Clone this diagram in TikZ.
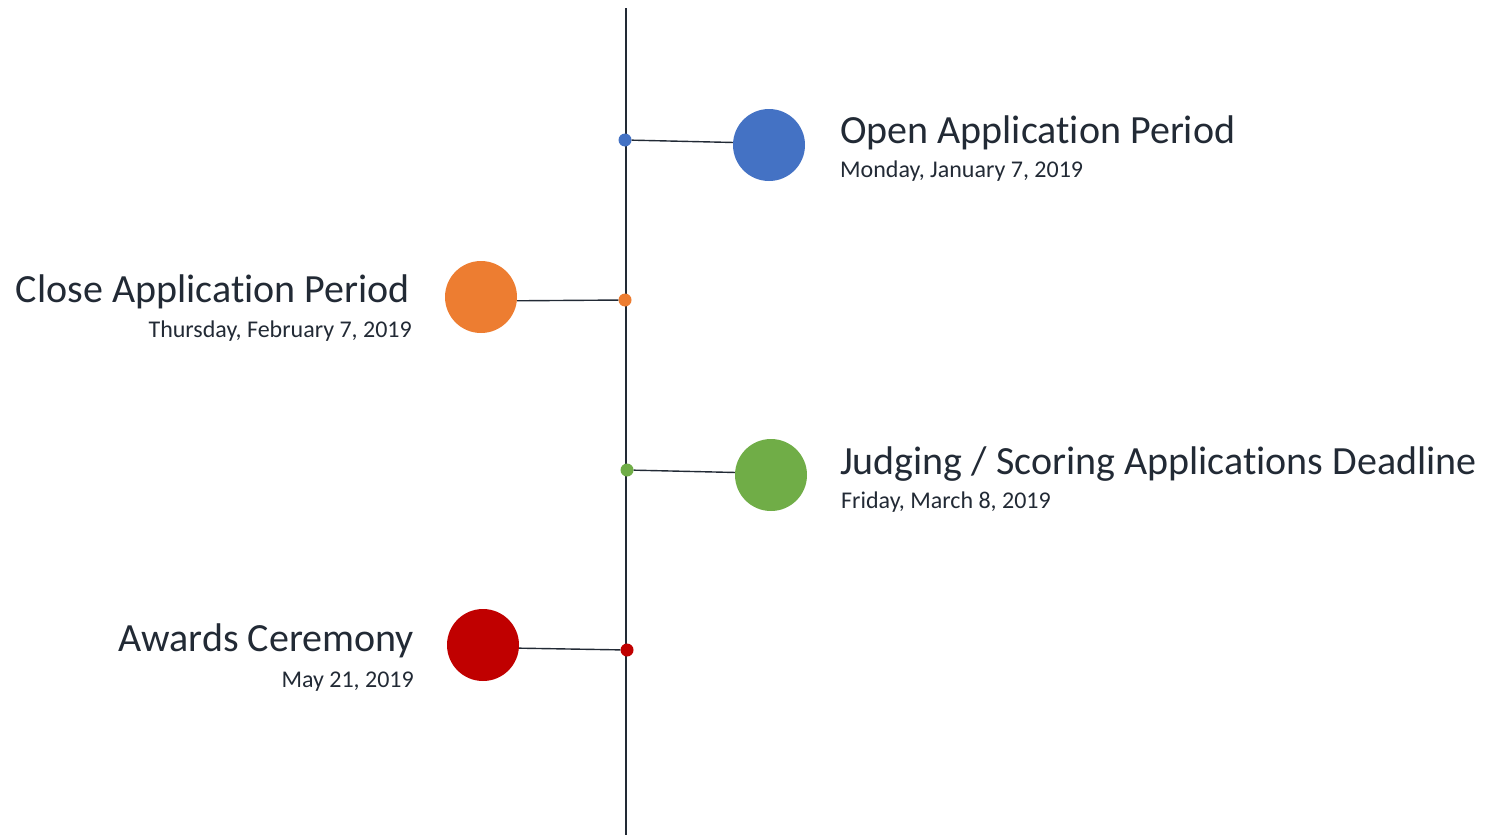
\documentclass[tikz,border=0pt]{standalone}
\usepackage{fontspec}
\setmainfont{Carlito}[Ligatures=NoCommon]
\usepackage{tikz}
\usetikzlibrary{positioning}

\definecolor{txtdark}{HTML}{222A35}
\definecolor{evblue}{HTML}{4472C4}
\definecolor{evorange}{HTML}{ED7D31}
\definecolor{evgreen}{HTML}{70AD47}
\definecolor{evred}{HTML}{C00000}

\begin{document}
\begin{tikzpicture}[x=1pt,y=-1pt,
evdot/.style={circle,inner sep=0pt,minimum size=13pt},
evdisc/.style={circle,inner sep=0pt,minimum size=72pt},
evtitle/.style={inner sep=0pt,text=txtdark,font=\fontsize{40}{44}\selectfont},
evdate/.style={inner sep=0pt,text=txtdark,font=\fontsize{24}{28}\selectfont},
link/.style={draw=txtdark,line width=1.4pt}]
\useasboundingbox (0,0) rectangle (1502,835);
% time axis
\coordinate (axtop) at (626,8);
\coordinate (axbot) at (626,835);
\draw[txtdark,line width=1.4pt] (axtop) -- (axbot);
% open application
\node[evdot,fill=evblue] (d1) at (625,140) {};
\node[evdisc,fill=evblue] (c1) at (769,145) {};
\draw[link] (d1) -- (c1.176);
\node[evtitle,anchor=base west] (t1) at (840,143) {Open Application Period};
\node[evdate,anchor=base west] (s1) at (840,177) {Monday, January 7, 2019};
% close application
\node[evdot,fill=evorange] (d2) at (625,300) {};
\node[evdisc,fill=evorange] (c2) at (481,297) {};
\draw[link] (d2) -- (c2.-6);
\node[evtitle,anchor=base east] (t2) at (410,302) {Close Application Period};
\node[evdate,anchor=base east] (s2) at (412,337) {Thursday, February 7, 2019};
% judging
\node[evdot,fill=evgreen] (d3) at (627,470) {};
\node[evdisc,fill=evgreen] (c3) at (771,475) {};
\draw[link] (d3) -- (c3.176);
\node[evtitle,anchor=base west] (t3) at (840,474) {Judging / Scoring Applications Deadline};
\node[evdate,anchor=base west] (s3) at (841,508) {Friday, March 8, 2019};
% awards
\node[evdot,fill=evred] (d4) at (627,650) {};
\node[evdisc,fill=evred] (c4) at (483,645) {};
\draw[link] (d4) -- (c4.-5);
\node[evtitle,anchor=base east] (t4) at (414,651) {Awards Ceremony};
\node[evdate,anchor=base east] (s4) at (414,687) {May 21, 2019};
\end{tikzpicture}
\end{document}
